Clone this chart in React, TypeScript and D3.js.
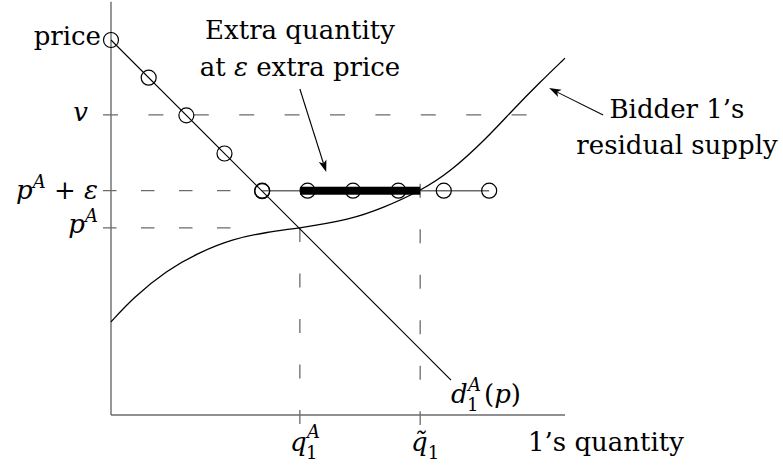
import React from "react";
import * as d3 from "d3";

// Quantity and price levels (in chart units)
const qA = 41.6;          // q_1^A
const qTilde = 68.1;      // q̃_1
const pA = 41.2;          // p^A
const pEps = 49.4;        // p^A + ε
const vLevel = 66.1;      // v
const qMax = 100;
const pMax = 91;

// Demand d_1^A(p): straight line endpoints
const demandLine: [number, number][] = [
  [0, 82.6],
  [74.9, 7.7],
];
// Bid points on the demand line
const demandQ = [0, 8.3, 16.6, 25.0, 33.3];
const demandP = [82.6, 74.3, 66.0, 57.6, 49.3];

// Offer points at p^A + ε
const offerQ = [33.3, 43.3, 53.3, 63.3, 73.3, 83.3];

// Bidder 1's residual supply curve
const supplyQ = [0, 4.85, 12.3, 19.6, 26.9, 34.4, 41.6, 52.6, 59.9, 68.1, 74.7, 82.8, 88.5, 94.5, 100];
const supplyP = [20.5, 25.8, 31.9, 35.9, 38.8, 40.3, 41.2, 43.0, 45.6, 49.3, 53.5, 61.0, 67.2, 73.3, 78.6];

// Annotation pointers [from, to]
const extraArrow: [number, number][] = [
  [41.6, 71.8],
  [47.4, 53.5],
];
const supplyArrow: [number, number][] = [
  [108.4, 66.1],
  [96.5, 72.0],
];

const FONT = "'DejaVu Serif', 'Liberation Serif', serif";
const AXIS = "#6b6b6b";

function Arrow({ pts, x, y }: { pts: [number, number][]; x: any; y: any }) {
  const x1 = x(pts[0][0]);
  const y1 = y(pts[0][1]);
  const x2 = x(pts[1][0]);
  const y2 = y(pts[1][1]);
  const ang = Math.atan2(y2 - y1, x2 - x1);
  const len = 12;
  const hw = 4;
  const bx = x2 - len * Math.cos(ang);
  const by = y2 - len * Math.sin(ang);
  const nx = -Math.sin(ang);
  const ny = Math.cos(ang);
  const ix = x2 - len * 0.75 * Math.cos(ang);
  const iy = y2 - len * 0.75 * Math.sin(ang);
  const head = `M${x2},${y2} L${bx + nx * hw},${by + ny * hw} L${ix},${iy} L${bx - nx * hw},${by - ny * hw} Z`;
  return (
    <g>
      <line x1={x1} y1={y1} x2={ix} y2={iy} stroke="#000" strokeWidth={1.1} />
      <path d={head} fill="#000" />
    </g>
  );
}

export default function App() {
  const x = d3.scaleLinear().domain([0, qMax]).range([111, 565]);
  const y = d3.scaleLinear().domain([0, 100]).range([415, -39]);

  const supplyPath = d3
    .line<number>()
    .x((_, i) => x(supplyQ[i]))
    .y((d) => y(d))
    .curve(d3.curveBasis)(supplyP) as string;

  const r = 7.5;
  const axisX = x(0);
  const axisY = y(0);

  return (
    <svg
      width={783}
      height={471}
      style={{ position: "absolute", left: 0, top: 0, background: "#fff" }}
    >
      <rect width={783} height={471} fill="#fff" />

      {/* axes */}
      <line x1={axisX} y1={axisY} x2={axisX} y2={y(pMax)} stroke={AXIS} strokeWidth={1.4} />
      <line x1={axisX} y1={axisY} x2={x(qMax)} y2={axisY} stroke={AXIS} strokeWidth={1.4} />

      {/* dashed guides */}
      <line x1={axisX - 8} x2={x(91.6)} y1={y(vLevel)} y2={y(vLevel)} stroke={AXIS} strokeWidth={1.3} strokeDasharray="15 30.4" />
      <line x1={axisX - 8} x2={x(29.5)} y1={y(pEps)} y2={y(pEps)} stroke={AXIS} strokeWidth={1.3} strokeDasharray="13.5 24.5" />
      <line x1={axisX - 8} x2={x(29.5)} y1={y(pA)} y2={y(pA)} stroke={AXIS} strokeWidth={1.3} strokeDasharray="13.5 24.5" />
      <line x1={x(qA)} x2={x(qA)} y1={y(pA)} y2={axisY + 10} stroke={AXIS} strokeWidth={1.3} strokeDasharray="14 31.5" />
      <line x1={x(qTilde)} x2={x(qTilde)} y1={y(pEps) - 7} y2={axisY + 10} stroke={AXIS} strokeWidth={1.3} strokeDasharray="14 31.5" />

      {/* offers at p^A + ε */}
      <line x1={x(offerQ[0])} x2={x(offerQ[offerQ.length - 1])} y1={y(pEps)} y2={y(pEps)} stroke={AXIS} strokeWidth={1.5} />
      <rect
        x={x(offerQ[1]) - r}
        width={x(qTilde) - x(offerQ[1]) + r}
        y={y(pEps) - 4}
        height={8}
        fill="#000"
      />

      {/* demand */}
      <line
        x1={x(demandLine[0][0])}
        y1={y(demandLine[0][1])}
        x2={x(demandLine[1][0])}
        y2={y(demandLine[1][1])}
        stroke="#000"
        strokeWidth={1.1}
      />

      {/* residual supply */}
      <path d={supplyPath} fill="none" stroke="#000" strokeWidth={1.3} />

      {/* bid points */}
      {demandQ.map((q, i) => (
        <circle key={`d${i}`} cx={x(q)} cy={y(demandP[i])} r={r} fill="none" stroke="#000" strokeWidth={1.2} />
      ))}
      {offerQ.map((q, i) => (
        <circle key={`o${i}`} cx={x(q)} cy={y(pEps)} r={r} fill="none" stroke="#000" strokeWidth={1.2} />
      ))}

      {/* annotation arrows */}
      <Arrow pts={extraArrow} x={x} y={y} />
      <Arrow pts={supplyArrow} x={x} y={y} />

      {/* labels */}
      <g fontSize={26} fill="#000" style={{ fontFamily: FONT }}>
        <text x={101} y={45} textAnchor="end">price</text>
        <text x={88} y={121} textAnchor="end" fontStyle="italic">v</text>

        <text x={98} y={199} textAnchor="end" style={{ whiteSpace: "pre" }}>
          <tspan fontStyle="italic">p</tspan>
          <tspan fontStyle="italic" fontSize={18} dy={-11}>A</tspan>
          <tspan dy={11}> + </tspan>
          <tspan fontStyle="italic">ε</tspan>
        </text>

        <text x={98} y={233} textAnchor="end">
          <tspan fontStyle="italic">p</tspan>
          <tspan fontStyle="italic" fontSize={18} dy={-11}>A</tspan>
        </text>

        {/* q_1^A */}
        <text x={290} y={451} fontStyle="italic">q</text>
        <text x={306} y={459} fontSize={18}>1</text>
        <text x={307} y={438} fontSize={18} fontStyle="italic">A</text>

        {/* q̃_1 */}
        <text x={411} y={451}>
          <tspan fontStyle="italic">{"q\u0303"}</tspan>
          <tspan fontSize={18} dy={8}>1</tspan>
        </text>

        <text x={528} y={451}>1’s quantity</text>

        {/* d_1^A(p) */}
        <text x={451} y={403} fontStyle="italic">d</text>
        <text x={467} y={411} fontSize={18}>1</text>
        <text x={468} y={391} fontSize={18} fontStyle="italic">A</text>
        <text x={484} y={403}>
          (<tspan fontStyle="italic">p</tspan>)
        </text>

        <text x={300} y={39} textAnchor="middle">Extra quantity</text>
        <text x={300} y={76} textAnchor="middle" style={{ whiteSpace: "pre" }}>
          at <tspan fontStyle="italic">ε</tspan> extra price
        </text>

        <text x={677} y={118} textAnchor="middle">Bidder 1’s</text>
        <text x={677} y={154} textAnchor="middle">residual supply</text>
      </g>
    </svg>
  );
}
